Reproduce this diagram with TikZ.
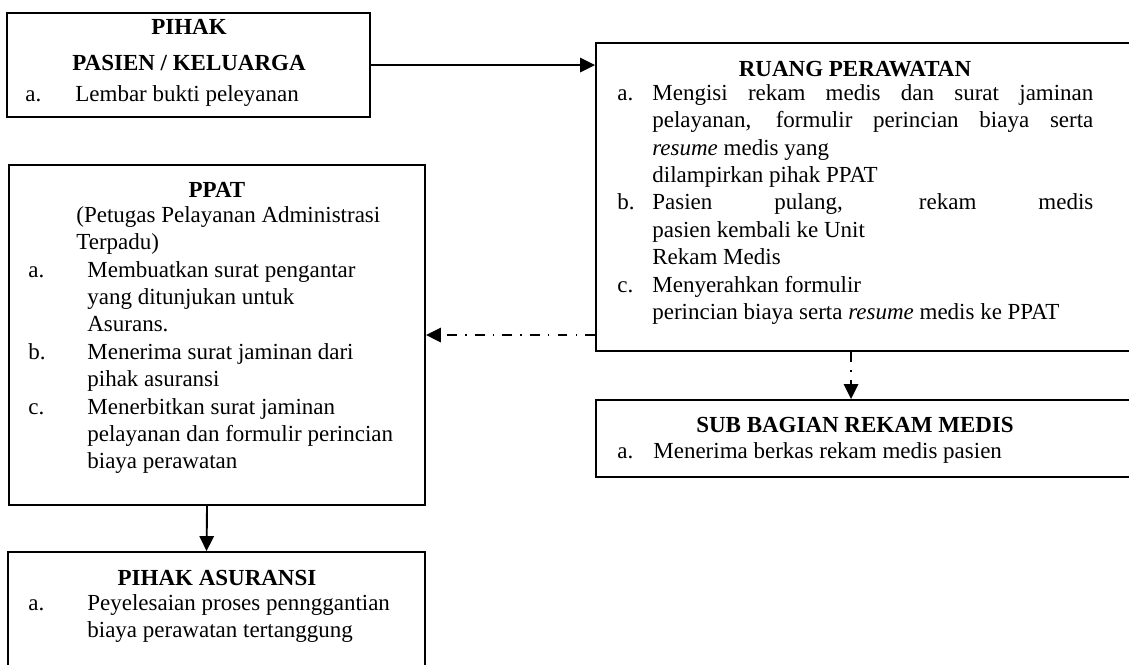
\documentclass[tikz,border=0pt]{standalone}
\usepackage{fontspec}
\setmainfont{Liberation Serif}
\usetikzlibrary{arrows.meta,fit}

\newdimen\px \px=0.522pt
\newcommand\topstrut{\rule{0pt}{10pt}}
\newcommand\lbl[2][59]{\makebox[#1\px][l]{#2}}

\begin{document}
\begin{tikzpicture}[x=0.522pt, y=-0.522pt,
  box/.style={draw, line width=1pt, inner sep=0pt},
  title/.style={anchor=north, inner sep=0pt, align=center,
    font=\fontsize{12pt}{14.3pt}\selectfont\bfseries, execute at begin node=\topstrut},
  body/.style={anchor=north west, inner sep=0pt, align=left,
    font=\fontsize{12pt}{14.3pt}\selectfont, execute at begin node=\topstrut},
  flow/.style={line width=1pt, -{Triangle[length=7.8pt,width=7.5pt]}},
  dashdot/.style={dash pattern=on 5.2pt off 4.2pt on 0.8pt off 4.2pt}]
  \useasboundingbox (0,0) rectangle (1129,664);
  \clip (0,0) rectangle (1129,664);

  % boxes
  \node[box, fit={(7,13) (370,117)}]     (pasien)   {};
  \node[box, fit={(596,43) (1170,351)}]  (ruang)    {};
  \node[box, fit={(9,165) (425,505)}]    (ppat)     {};
  \node[box, fit={(596,400) (1170,477)}] (rekam)    {};
  \node[box, fit={(8,552) (425,700)}]    (asuransi) {};

  % pasien / keluarga
  \node[title] (pasien title) at (189,19) {PIHAK\\[4.5pt] PASIEN / KELUARGA};
  \node[body]  (pasien text)  at (25,82)  {\lbl[50]{a.}Lembar bukti peleyanan};

  % ruang perawatan
  \node[title] (ruang title) at (855,57) {RUANG PERAWATAN};
  \node[body]  (ruang text)  at (617,84) {%
    \lbl[35]{a.}\makebox[441\px][s]{Mengisi rekam medis dan surat jaminan}\\
    \lbl[35]{}\makebox[441\px][s]{pelayanan, formulir perincian biaya serta}\\
    \lbl[35]{}\emph{resume} medis yang\\
    \lbl[35]{}dilampirkan pihak PPAT\\
    \lbl[35]{b.}\makebox[441\px][s]{Pasien pulang, rekam medis}\\
    \lbl[35]{}pasien kembali ke Unit\\
    \lbl[35]{}Rekam Medis\\
    \lbl[35]{c.}Menyerahkan formulir\\
    \lbl[35]{}perincian biaya serta \emph{resume} medis ke PPAT};

  % ppat
  \node[title] (ppat title) at (217,178) {PPAT};
  \node[body]  (ppat text)  at (28,206)  {%
    \lbl[48]{}(Petugas Pelayanan Administrasi\\
    \lbl[48]{}Terpadu)\\
    \lbl{a.}Membuatkan surat pengantar\\
    \lbl{}yang ditunjukan untuk\\
    \lbl{}Asurans.\\
    \lbl{b.}Menerima surat jaminan dari\\
    \lbl{}pihak asuransi\\
    \lbl{c.}Menerbitkan surat jaminan\\
    \lbl{}pelayanan dan formulir perincian\\
    \lbl{}biaya perawatan};

  % sub bagian rekam medis
  \node[title] (rekam title) at (855,413) {SUB BAGIAN REKAM MEDIS};
  \node[body]  (rekam text)  at (617,439) {\lbl[36]{a.}Menerima berkas rekam medis pasien};

  % pihak asuransi
  \node[title] (asuransi title) at (217,566) {PIHAK ASURANSI};
  \node[body]  (asuransi text)  at (28,594)  {%
    \lbl{a.}Peyelesaian proses pennggantian\\
    \lbl{}biaya perawatan tertanggung};

  % alur
  \draw[flow] (pasien.east) -- (pasien.east -| ruang.west);
  \draw[flow, dashdot] (ppat.east -| ruang.west) -- (ppat.east);
  \draw[flow, dashdot] ([xshift=-16.7pt]ruang.south) -- ([xshift=-16.7pt]rekam.north);
  \draw[flow] ([xshift=-5.2pt]ppat.south) -- ([xshift=-5.2pt]asuransi.north);
\end{tikzpicture}
\end{document}
